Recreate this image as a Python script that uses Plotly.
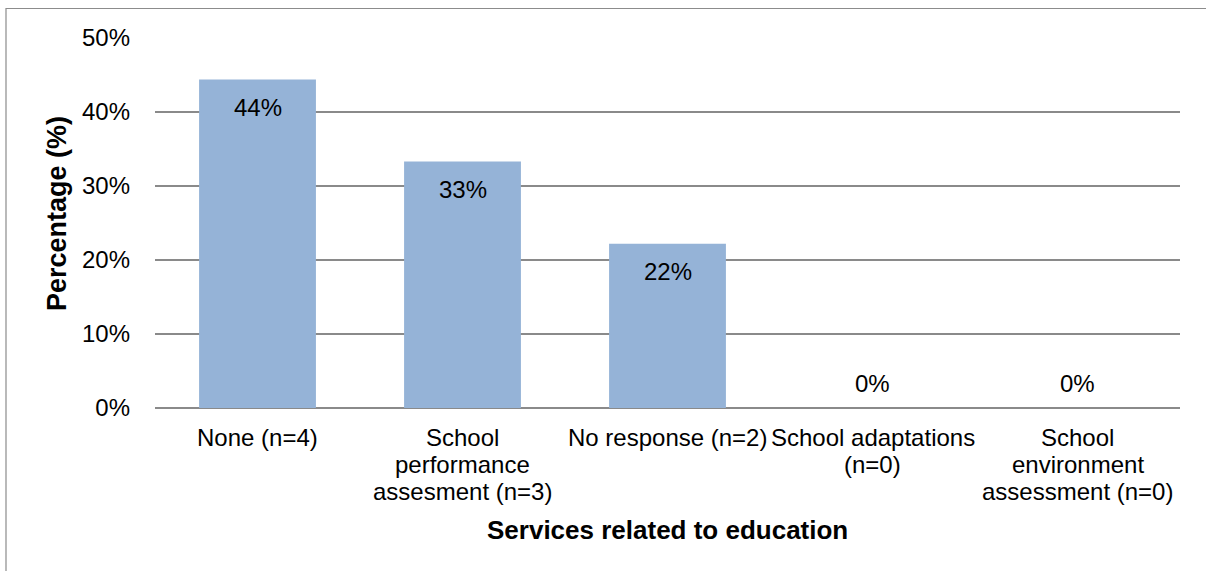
import plotly.graph_objects as go

# Share of respondents by education-related service received
categories = [
    "None (n=4)",
    "School performance assesment (n=3)",
    "No response (n=2)",
    "School adaptations (n=0)",
    "School environment assessment (n=0)",
]
category_lines = [
    ["None (n=4)"],
    ["School", "performance", "assesment (n=3)"],
    ["No response (n=2)"],
    ["School adaptations", "(n=0)"],
    ["School", "environment", "assessment (n=0)"],
]
percentages = [44.4, 33.3, 22.2, 0.0, 0.0]
y_tick_values = [0, 10, 20, 30, 40, 50]
y_tick_labels = ["0%", "10%", "20%", "30%", "40%", "50%"]

FONT = "Liberation Sans, Arial, sans-serif"
BAR_COLOR = "#95b3d7"
GRID_COLOR = "#8a8a8a"

W, H = 1206, 571
M_L, M_R, M_T, M_B = 155, 26, 38, 163
plot_w = W - M_L - M_R
plot_h = H - M_T - M_B
BASE_Y = M_T + plot_h  # pixel row of the 0% line


def paper_y(px):
    return (BASE_Y - px) / plot_h


def paper_x(px):
    return (px - M_L) / plot_w


fig = go.Figure(
    go.Bar(
        x=categories,
        y=percentages,
        marker=dict(color=BAR_COLOR, line=dict(width=0)),
        hoverinfo="skip",
    )
)

annotations = []

# Value labels: inside the top of each bar, above the baseline for empty bars
for cat, val in zip(categories, percentages):
    annotations.append(
        dict(
            x=cat,
            y=val,
            xref="x",
            yref="y",
            text=f"{round(val)}%",
            showarrow=False,
            xanchor="center",
            yanchor="middle",
            yshift=-28 if val > 0 else 25,
            font=dict(family=FONT, size=24, color="#000000"),
        )
    )

# Category labels, one line at a time for tight line spacing
LINE_STEP = 27
for cat, lines in zip(categories, category_lines):
    for i, line in enumerate(lines):
        annotations.append(
            dict(
                x=cat,
                y=paper_y(437 + i * LINE_STEP),
                xref="x",
                yref="paper",
                text=line,
                showarrow=False,
                xanchor="center",
                yanchor="middle",
                font=dict(family=FONT, size=24, color="#000000"),
            )
        )

# Axis titles
annotations.append(
    dict(
        x=0.5,
        y=paper_y(530),
        xref="paper",
        yref="paper",
        text="<b>Services related to education</b>",
        showarrow=False,
        xanchor="center",
        yanchor="middle",
        font=dict(family=FONT, size=26, color="#000000"),
    )
)
annotations.append(
    dict(
        x=paper_x(57),
        y=paper_y(214),
        xref="paper",
        yref="paper",
        text="<b>Percentage (%)</b>",
        textangle=-90,
        showarrow=False,
        xanchor="center",
        yanchor="middle",
        font=dict(family=FONT, size=27, color="#000000"),
    )
)

fig.update_layout(
    width=W,
    height=H,
    margin=dict(l=M_L, r=M_R, t=M_T, b=M_B, autoexpand=False),
    paper_bgcolor="#ffffff",
    plot_bgcolor="#ffffff",
    showlegend=False,
    bargap=0.43,
    font=dict(family=FONT, size=24, color="#000000"),
    annotations=annotations,
    shapes=[
        # Outer chart frame
        dict(
            type="rect",
            xref="paper",
            yref="paper",
            x0=paper_x(6),
            x1=paper_x(W + 20),
            y0=paper_y(H + 20),
            y1=paper_y(8.5),
            line=dict(color="#8c8c8c", width=1.2),
            fillcolor="rgba(0,0,0,0)",
            layer="below",
        )
    ],
)

fig.update_xaxes(
    showgrid=False,
    showline=False,
    zeroline=False,
    ticks="",
    showticklabels=False,
)

fig.update_yaxes(
    range=[0, 50],
    tickvals=y_tick_values,
    ticktext=y_tick_labels,
    showgrid=True,
    gridcolor=GRID_COLOR,
    gridwidth=1.5,
    zeroline=True,
    zerolinecolor=GRID_COLOR,
    zerolinewidth=1.5,
    showline=False,
    ticks="",
    ticklabelstandoff=24,
    tickfont=dict(family=FONT, size=24, color="#000000"),
)

fig.write_html("out.html")
